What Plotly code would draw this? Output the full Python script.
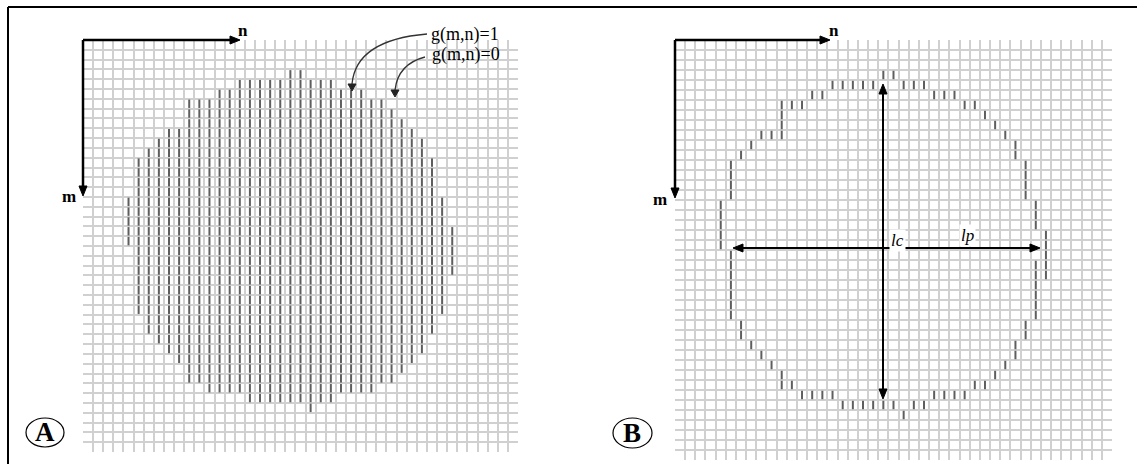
import plotly.graph_objects as go

W, H = 1137, 464

# ---------------- data ----------------
# Panel A: cells with g(m,n)=1 ; for each column n, first and last filled row m
a_cols   = list(range(4, 37))
a_top    = [16, 12, 11, 10, 9, 9, 6, 6, 6, 5, 5, 4, 4, 4, 4, 4, 3, 3, 4, 4, 4,
            5, 5, 5, 6, 6, 7, 8, 9, 10, 12, 16, 19]
a_bottom = [20, 27, 29, 30, 31, 32, 34, 34, 35, 35, 35, 35, 36, 36, 36, 36, 36, 36, 37, 36, 36,
            35, 35, 35, 35, 34, 34, 33, 32, 31, 29, 27, 23]

# Panel B: contour cells, as vertical runs (column, first row, last row)
b_cols  = [4, 5, 5, 6, 6, 7, 7, 8, 8, 9, 9, 10, 10, 11, 11, 12, 12, 13, 13, 14, 14, 15, 15,
           16, 16, 17, 17, 18, 18, 19, 19, 20, 20, 21, 21, 22, 22, 23, 23, 24, 24,
           25, 25, 26, 26, 27, 27, 28, 28, 29, 29, 30, 30, 31, 31, 32, 32, 33, 33,
           34, 34, 35, 35, 36]
b_start = [16, 12, 21, 11, 28, 10, 30, 9, 31, 9, 32, 6, 33, 6, 34, 6, 35, 5, 35, 5, 35, 4, 35,
           4, 36, 4, 36, 4, 36, 4, 36, 3, 36, 3, 36, 4, 37, 4, 36, 4, 36,
           5, 35, 5, 35, 5, 35, 6, 35, 6, 34, 7, 34, 8, 33, 9, 32, 10, 30,
           12, 28, 16, 22, 19]
b_end   = [20, 15, 27, 11, 29, 10, 30, 9, 31, 9, 32, 9, 34, 6, 34, 6, 35, 5, 35, 5, 35, 4, 35,
           4, 36, 4, 36, 4, 36, 4, 36, 3, 36, 3, 36, 4, 37, 4, 36, 4, 36,
           5, 35, 5, 35, 5, 35, 6, 35, 6, 34, 7, 34, 8, 33, 9, 32, 11, 31,
           15, 29, 18, 27, 23]

grid_cols = 43
grid_rows = 42

label_one  = "g(m,n)=1"
label_zero = "g(m,n)=0"
# -------------------------------------------------------------


def fx(x):
    return x / W


def fy(y):
    return 1 - y / H


def path(points, close=True):
    s = "M " + " L ".join(f"{fx(x):.5f},{fy(y):.5f}" for x, y in points)
    return s + (" Z" if close else "")


SERIF = "Liberation Serif"
DASH = "#5e5e5e"

fig = go.Figure()

ax, ay = [], []
for c, t, b in zip(a_cols, a_top, a_bottom):
    for r in range(t, b + 1):
        ax.append(c + 0.5)
        ay.append(r + 0.5)
fig.add_trace(go.Scatter(x=ax, y=ay, mode="markers", xaxis="x", yaxis="y",
                         marker=dict(symbol="line-ns", size=6, line=dict(width=2, color=DASH)),
                         hoverinfo="skip"))

bx, by = [], []
for c, s, e in zip(b_cols, b_start, b_end):
    for r in range(s, e + 1):
        bx.append(c + 0.5)
        by.append(r + 0.5)
fig.add_trace(go.Scatter(x=bx, y=by, mode="markers", xaxis="x2", yaxis="y2",
                         marker=dict(symbol="line-ns", size=6, line=dict(width=2, color=DASH)),
                         hoverinfo="skip"))

grid = dict(showgrid=True, gridcolor="#d0d0d0", gridwidth=1.5, dtick=1, tick0=0,
            showticklabels=False, ticks="", zeroline=False, showline=False, fixedrange=True)

shapes = []
blk = dict(color="black", width=2.5)


def line(x0, y0, x1, y1, **kw):
    d = dict(type="line", xref="paper", yref="paper", x0=fx(x0), y0=fy(y0), x1=fx(x1), y1=fy(y1),
             line=kw.get("ln", blk), layer="above")
    shapes.append(d)


def tri(points, color="black"):
    shapes.append(dict(type="path", xref="paper", yref="paper", path=path(points),
                       fillcolor=color, line=dict(color=color, width=1), layer="above"))


# outer frame (top and left edges visible)
line(8, 7, 1137, 7, ln=dict(color="black", width=2))
line(8, 7, 8, 464, ln=dict(color="black", width=2))

# n / m axes arrows, panel A
line(83, 40, 232, 40)
tri([(230, 36), (240, 40), (230, 44)])
line(83, 40, 83, 188)
tri([(79, 186), (83, 196), (87, 186)])
# panel B
line(675, 40, 822, 40)
tri([(820, 36), (830, 40), (820, 44)])
line(675, 40, 675, 190)
tri([(671, 188), (675, 198), (679, 188)])

# lc and lp double arrows
thin = dict(color="black", width=2)
line(883, 93, 883, 390, ln=thin)
tri([(879, 94), (883, 84), (887, 94)])
tri([(879, 389), (883, 399), (887, 389)])
line(742, 248, 1031, 248, ln=thin)
tri([(743, 244), (733, 248), (743, 252)])
tri([(1030, 244), (1040, 248), (1030, 252)])

# curved pointers for g(m,n)
shapes.append(dict(type="path", xref="paper", yref="paper",
                   path=f"M {fx(427):.5f},{fy(34):.5f} Q {fx(356):.5f},{fy(40):.5f} {fx(352):.5f},{fy(84):.5f}",
                   line=dict(color="#333333", width=1.3), layer="above"))
tri([(348, 84), (352, 91), (356, 84)], color="#222222")
shapes.append(dict(type="path", xref="paper", yref="paper",
                   path=f"M {fx(425):.5f},{fy(57):.5f} Q {fx(398):.5f},{fy(64):.5f} {fx(395):.5f},{fy(90):.5f}",
                   line=dict(color="#333333", width=1.3), layer="above"))
tri([(391, 90), (395, 97), (399, 90)], color="#222222")

# circled panel letters
shapes.append(dict(type="circle", xref="paper", yref="paper", x0=fx(26), x1=fx(64), y0=fy(447), y1=fy(418),
                   line=dict(color="black", width=1.2)))
shapes.append(dict(type="circle", xref="paper", yref="paper", x0=fx(613), x1=fx(652), y0=fy(448), y1=fy(418),
                   line=dict(color="black", width=1.2)))

ann = []


def text(t, x, y, size, xanchor="center", bold=False, italic=False, bg=None):
    s = t
    if bold:
        s = f"<b>{s}</b>"
    if italic:
        s = f"<i>{s}</i>"
    d = dict(text=s, x=fx(x), y=fy(y), xref="paper", yref="paper", showarrow=False,
             xanchor=xanchor, yanchor="middle", font=dict(family=SERIF, size=size, color="black"))
    if bg:
        d["bgcolor"] = bg
        d["borderpad"] = 1
    ann.append(d)


text("n", 243, 30, 17, bold=True)
text("m", 69, 196, 17, bold=True)
text("n", 834, 30, 17, bold=True)
text("m", 660, 199, 17, bold=True)
text(label_one, 429, 34, 18, xanchor="left")
text(label_zero, 430, 55, 18, xanchor="left")
text("A", 45, 432, 27, bold=True)
text("B", 632, 433, 27, bold=True)
text("lc", 897, 240, 17, italic=True, bg="white")
text("lp", 967, 236, 17, italic=True, bg="white")

fig.update_layout(
    width=W, height=H,
    margin=dict(l=0, r=0, t=0, b=0),
    paper_bgcolor="white", plot_bgcolor="white",
    showlegend=False,
    xaxis=dict(domain=[fx(83), fx(518)], range=[0, grid_cols], anchor="y", **grid),
    yaxis=dict(domain=[fy(452), fy(40)], range=[grid_rows, 0], anchor="x", **grid),
    xaxis2=dict(domain=[fx(675), fx(1112)], range=[0, grid_cols], anchor="y2", **grid),
    yaxis2=dict(domain=[fy(460), fy(40)], range=[grid_rows, 0], anchor="x2", **grid),
    shapes=shapes,
    annotations=ann,
)

fig.write_html("out.html", config={"displayModeBar": False},
               post_script="document.body.style.margin='0';document.body.style.overflow='hidden';")
